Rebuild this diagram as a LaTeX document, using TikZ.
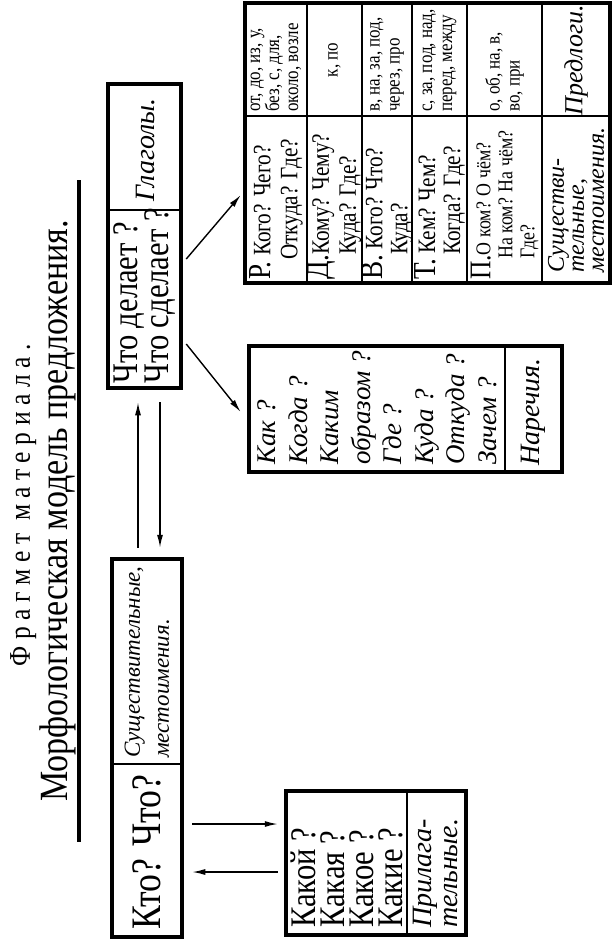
\documentclass[tikz,border=0pt]{standalone}
\usepackage{fontspec}
\setmainfont{Liberation Serif}
\newfontfamily\printfont[FakeStretch=0.85]{Liberation Serif}
\newfontfamily\spacedfont[FakeStretch=0.85,LetterSpace=22]{Liberation Serif}
\newcommand\setsize[2]{\fontsize{#1}{#2}\selectfont}
\usetikzlibrary{arrows.meta}

\begin{document}
\begin{tikzpicture}[x=1pt,y=-1pt,>={Latex[length=13pt,width=6pt]},
  frame/.style={draw,line width=4.5pt,inner sep=0pt},
  rule/.style={line width=1.2pt},
  link/.style={->,line width=1.4pt},
  typed/.style={rotate=90,inner sep=0pt,align=left,font=\printfont},
  hand/.style={rotate=90,inner sep=0pt,align=left,font=\itshape}]
  \useasboundingbox (0,0) rectangle (614,943);
  % titles
  \node[typed,anchor=base,font=\spacedfont\setsize{30}{30}] (fragment) at (30,505) {Фрагмет материала.};
  \node[typed,anchor=base,font=\printfont\setsize{40}{42}] (title) at (67,511) {Морфологическая модель предложения.};
  \draw[line width=4pt] (79,180) -- (79,842);
  % boxes
  \node[frame,minimum width=73pt,minimum height=304pt] (verbs) at (144.5,236) {};
  \node[frame,minimum width=70pt,minimum height=378pt] (nouns) at (147,748) {};
  \node[frame,minimum width=180pt,minimum height=144pt] (adjs) at (376,863) {};
  \node[frame,minimum width=313pt,minimum height=126pt] (advs) at (405.5,409) {};
  \node[frame,minimum width=365pt,minimum height=280pt] (cases) at (427.5,143) {};
  \draw[rule] (108,210) -- (181,210);
  \draw[rule] (112,764) -- (182,764);
  \draw[rule] (407,791) -- (407,935);
  \draw[rule] (505,346) -- (505,472);
  \draw[rule] (245,116) -- (610,116);
  \foreach \c in {307,362,412,467,542}
    \draw[rule] (\c,3) -- (\c,283);
  % box texts
  \node[typed,anchor=west,font=\printfont\setsize{36}{30}] (doing) at (144.5,384) {Что делает ?\\Что сделает ?};
  \node[hand,font=\itshape\setsize{28}{28}] (verbname) at (146,150) {Глаголы.};
  \node[typed,anchor=west,font=\printfont\setsize{42}{42}] (who) at (147,930) {Кто? Что?};
  \node[hand,anchor=west,font=\itshape\setsize{23}{29}] (nounname) at (147,758) {Существительные,\\местоимения.};
  \node[typed,anchor=west,font=\printfont\setsize{36}{29}] (which) at (346.5,928) {Какой ?\\Какая ?\\Какое ?\\Какие ?};
  \node[hand,anchor=west,font=\itshape\setsize{28}{26}] (adjname) at (436,928) {Прилага-\\тельные.};
  \node[hand,anchor=west,font=\itshape\setsize{27}{31.5}] (how) at (377,465) {Как ?\\Когда ?\\Каким\\образом ?\\Где ?\\Куда ?\\Откуда ?\\Зачем ?};
  \node[hand,font=\itshape\setsize{28}{28}] (advname) at (533,412) {Наречия.};
  % case table
  \node[typed,anchor=west,font=\printfont\setsize{25}{27}] (gen) at (276,280) {{\setsize{32}{27}Р.} Кого? Чего?\\\hspace*{0.8em}Откуда? Где?};
  \node[typed,anchor=west,font=\printfont\setsize{25}{27}] (dat) at (334.5,280) {{\setsize{32}{27}Д.}Кому? Чему?\\\hspace*{1em}Куда? Где?};
  \node[typed,anchor=west,font=\printfont\setsize{25}{25}] (acc) at (387,280) {{\setsize{32}{25}В.} Кого? Что?\\\hspace*{1em}Куда?};
  \node[typed,anchor=west,font=\printfont\setsize{25}{25}] (ins) at (439.5,280) {{\setsize{32}{25}Т.} Кем? Чем?\\\hspace*{1em}Когда? Где?};
  \node[typed,anchor=west,font=\printfont\setsize{21}{22}] (pre) at (504.5,280) {{\setsize{30}{22}П.}О ком? О чём?\\\hspace*{1em}На ком? На чём?\\\hspace*{1em}Где?};
  \node[hand,font=\itshape\setsize{24}{20}] (pronname) at (576,200) {Существи-\\тельные,\\местоимения.};
  \node[typed,anchor=west,font=\printfont\setsize{20}{19}] (genp) at (276,112) {от, до, из, у,\\без, с, для,\\около, возле};
  \node[typed,font=\printfont\setsize{20}{19}] (datp) at (334.5,60) {к, по};
  \node[typed,anchor=west,font=\printfont\setsize{20}{20}] (accp) at (387,112) {в, на, за, под,\\через, про};
  \node[typed,anchor=west,font=\printfont\setsize{20}{20}] (insp) at (439.5,112) {с, за, под, над,\\перед, между};
  \node[typed,anchor=west,font=\printfont\setsize{20}{20}] (prep) at (504.5,112) {о, об, на, в,\\во, при};
  \node[hand,font=\itshape\setsize{26}{26}] (prepname) at (576,60) {Предлоги.};
  % arrows
  \draw[link] ([shift={(-9pt,9pt)}]nouns.north) -- ([shift={(-6.5pt,-12pt)}]verbs.south);
  \draw[link] ([shift={(15.5pt,-12pt)}]verbs.south) -- ([shift={(13pt,9pt)}]nouns.north);
  \draw[link] ([shift={(8pt,-76pt)}]nouns.east) -- ([shift={(-6pt,39pt)}]adjs.west);
  \draw[link] ([shift={(-6pt,-9pt)}]adjs.west) -- ([shift={(8pt,-124pt)}]nouns.east);
  \draw[link] ([shift={(3pt,-23pt)}]verbs.east) -- ([shift={(-2pt,-52pt)}]cases.west);
  \draw[link] ([shift={(3pt,-108pt)}]verbs.east) -- ([shift={(-6pt,-3pt)}]advs.west);
\end{tikzpicture}
\end{document}
